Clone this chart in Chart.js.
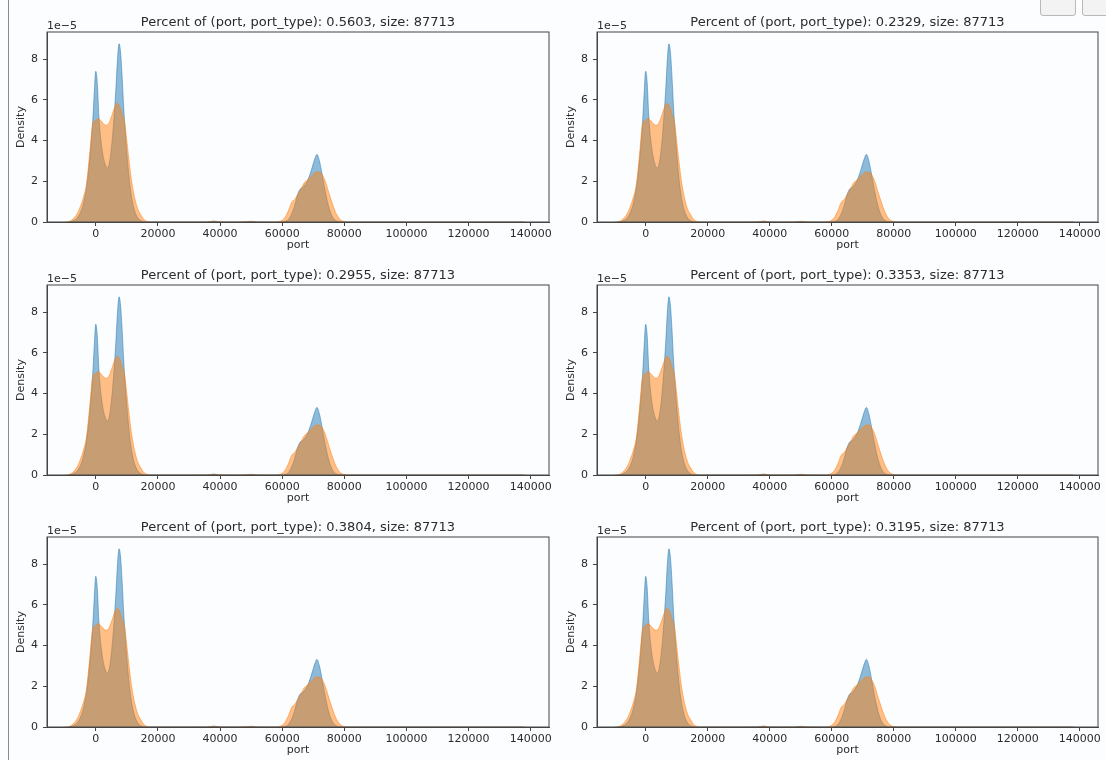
<!DOCTYPE html>
<html>
<head>
<meta charset="utf-8">
<script src="https://cdn.jsdelivr.net/npm/chart.js@4.4.1/dist/chart.umd.min.js"></script>
<style>
  body { margin: 0; background: #fcfdfe; width: 1106px; height: 760px; overflow: hidden; position: relative; }
  canvas { position: absolute; }
  .edge { position: absolute; left: 8px; top: 0; width: 1px; height: 760px; background: #8a8a8a; }
  .btn { position: absolute; top: -6px; height: 20px; border: 1px solid #b8b8b8; border-radius: 3px; background: #f3f3f3; }
</style>
</head>
<body>
<div class="edge"></div>
<div class="btn" style="left:1040px;width:34px"></div>
<div class="btn" style="left:1082px;width:34px"></div>
<script>
// percent shown in each panel title, row by row
const percents = ['0.5603', '0.2329', '0.2955', '0.3353', '0.3804', '0.3195'];
const sampleSize = 87713;

// KDE of port (density in units of 1e-5), first series
const blueX = [-9000, -8000, -7000, -6000, -5000, -4000, -3000, -2000, -1000, -500, 0, 500, 1000, 2000, 3000, 3750, 4500,
  5500, 6500, 7000, 7500, 8000, 8500, 9000, 10000, 11000, 12000, 13000, 14000, 15000, 16000, 30000, 36000, 38000,
  40000, 44000, 48000, 50000, 52000, 56000, 60000, 61000, 62000, 63000, 64000, 65000, 65800, 66500, 67500, 68500,
  69500, 70500, 71200, 72000, 72800, 73500, 74500, 75500, 76500, 77500, 78500, 80000, 100000, 138000];
const blueY = [0, 0.02, 0.08, 0.2, 0.45, 0.9, 1.7, 3.0, 4.9, 6.3, 7.4, 6.8, 5.2, 3.6, 2.85, 2.65, 3.0,
  4.4, 6.6, 8.0, 8.75, 8.3, 7.1, 5.6, 3.4, 1.8, 0.85, 0.35, 0.12, 0.03, 0, 0, 0.005, 0.04,
  0.005, 0, 0.005, 0.03, 0.005, 0, 0, 0.03, 0.12, 0.38, 0.8, 1.35, 1.62, 1.68, 1.85, 2.15,
  2.6, 3.1, 3.32, 3.0, 2.4, 1.8, 1.05, 0.5, 0.18, 0.05, 0.01, 0, 0, 0];

// second series
const orangeX = [-10000, -9000, -8000, -7000, -6000, -5000, -4000, -3000, -2000, -1000, 0, 750, 1500, 2500, 3300,
  4200, 5000, 6000, 6900, 7800, 8500, 9300, 10000, 10500, 11500, 12500, 13500, 14500, 15500, 16500, 17500, 30000,
  36000, 38000, 40000, 44000, 48000, 50000, 52000, 56000, 58000, 59000, 60000, 61000, 62000, 63000, 64000, 65000,
  66000, 67000, 68000, 69000, 70000, 71000, 72000, 73000, 74000, 75000, 76000, 77000, 78000, 79000, 80000, 81000,
  100000, 138000];
const orangeY = [0, 0.01, 0.06, 0.2, 0.4, 0.75, 1.2, 1.85, 3.3, 4.8, 5.0, 5.08, 5.0, 4.82, 4.75,
  4.85, 5.15, 5.6, 5.83, 5.65, 5.3, 4.9, 4.0, 3.3, 2.05, 1.2, 0.65, 0.35, 0.12, 0.03, 0, 0,
  0.005, 0.04, 0.005, 0, 0.005, 0.03, 0.005, 0, 0, 0.02, 0.08, 0.25, 0.55, 0.95, 1.1, 1.35,
  1.6, 1.9, 2.05, 2.2, 2.35, 2.45, 2.45, 2.3, 1.95, 1.45, 0.98, 0.55, 0.25, 0.08, 0.02, 0,
  0, 0];

const xTicks = [0, 20000, 40000, 60000, 80000, 100000, 120000, 140000];
const yTicks = [0, 2, 4, 6, 8];

const font = '"DejaVu Sans", sans-serif';
const axisColor = '#444';
const textColor = '#2b2b2b';

const framePlugin = {
  id: 'frame',
  afterDraw(chart, args, opts) {
    const { ctx, chartArea: a } = chart;
    ctx.save();
    ctx.strokeStyle = axisColor;
    ctx.lineWidth = 1;
    ctx.strokeRect(a.left, a.top, a.right - a.left, a.bottom - a.top);
    ctx.fillStyle = textColor;
    ctx.textBaseline = 'alphabetic';
    ctx.font = '13px ' + font;
    ctx.textAlign = 'center';
    ctx.fillText(opts.text, (a.left + a.right) / 2, a.top - 6);
    ctx.font = '11px ' + font;
    ctx.textAlign = 'left';
    ctx.fillText('1e\u22125', a.left, a.top - 3);
    ctx.restore();
  }
};

const pts = (xs, ys) => xs.map((x, i) => ({ x: x, y: ys[i] }));

percents.forEach((p, i) => {
  const col = i % 2, row = Math.floor(i / 2);
  const cv = document.createElement('canvas');
  cv.width = 556;
  cv.height = 252;
  cv.style.left = (col * 550) + 'px';
  cv.style.top = [0, 253, 505][row] + 'px';
  document.body.appendChild(cv);

  new Chart(cv, {
    type: 'line',
    data: {
      datasets: [{
        data: pts(blueX, blueY),
        order: 1,
        borderColor: 'rgba(31,119,180,0.5)',
        backgroundColor: 'rgba(31,119,180,0.5)',
        borderWidth: 1,
        fill: 'origin',
        pointRadius: 0,
        cubicInterpolationMode: 'monotone'
      }, {
        data: pts(orangeX, orangeY),
        order: 0,
        borderColor: 'rgba(255,127,14,0.5)',
        backgroundColor: 'rgba(255,127,14,0.5)',
        borderWidth: 1,
        fill: 'origin',
        pointRadius: 0,
        cubicInterpolationMode: 'monotone'
      }]
    },
    options: {
      responsive: false,
      animation: false,
      events: [],
      layout: { padding: { top: 32, left: 0, right: col ? 8 : 7, bottom: 0 } },
      plugins: {
        legend: { display: false },
        tooltip: { enabled: false },
        frame: { text: 'Percent of (port, port_type): ' + p + ', size: ' + sampleSize }
      },
      scales: {
        x: {
          type: 'linear',
          min: -15700,
          max: 145900,
          afterBuildTicks: s => { s.ticks = xTicks.map(v => ({ value: v })); },
          afterFit: s => { s.height = 30; },
          grid: { drawOnChartArea: false, drawTicks: true, tickLength: 4, color: axisColor },
          border: { color: axisColor },
          ticks: { color: textColor, font: { family: font, size: 11 }, padding: 2, maxRotation: 0, autoSkip: false,
            callback: v => String(v) },
          title: { display: true, text: 'port', color: textColor, font: { family: font, size: 11 }, padding: 0 }
        },
        y: {
          min: 0,
          max: 9.33,
          afterBuildTicks: s => { s.ticks = yTicks.map(v => ({ value: v })); },
          afterFit: s => { s.width = 47; },
          grid: { drawOnChartArea: false, drawTicks: true, tickLength: 4, color: axisColor },
          border: { color: axisColor },
          ticks: { color: textColor, font: { family: font, size: 11 }, padding: 5, callback: v => String(v) },
          title: { display: true, text: 'Density', color: textColor, font: { family: font, size: 11 }, padding: { top: 15, bottom: 0 } }
        }
      }
    },
    plugins: [framePlugin]
  });
});
</script>
</body>
</html>
